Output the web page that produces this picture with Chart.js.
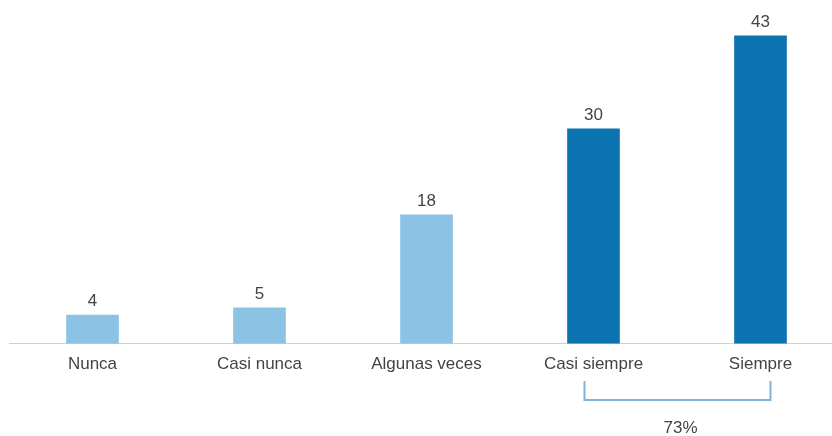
<!DOCTYPE html>
<html>
<head>
<meta charset="utf-8">
<script src="https://cdn.jsdelivr.net/npm/chart.js@4"></script>
<style>
    html, body { margin: 0; padding: 0; background: #fff; overflow: hidden; }
    #wrap { width: 845px; height: 436px; position: relative; }
</style>
</head>
<body>
<div id="wrap"><canvas id="myChart"></canvas></div>
<script>
"use strict";

const categories = ['Nunca', 'Casi nunca', 'Algunas veces', 'Casi siempre', 'Siempre'];
const values = [4, 5, 18, 30, 43];
const barColors = ['#8cc3e4', '#8cc3e4', '#8cc3e4', '#0b74b0', '#0b74b0'];
const groupLabel = '73%';

// etiquetas de valor encima de las barras + la llave de 73%
const extras = {
    id: 'extras',
    afterDatasetsDraw(chart) {
        const ctx = chart.ctx;
        const meta = chart.getDatasetMeta(0);
        ctx.save();
        ctx.fillStyle = '#444';
        ctx.font = '17px "Liberation Sans", Arial, sans-serif';
        ctx.textAlign = 'center';
        ctx.textBaseline = 'alphabetic';
        meta.data.forEach(function (bar, i) {
            ctx.fillText(values[i], bar.x, bar.y - 9);
        });

        const x = chart.scales.x;
        const left = x.getPixelForValue(3) - 9;
        const right = x.getPixelForValue(4) + 10;
        ctx.strokeStyle = '#82b3d9';
        ctx.lineWidth = 2;
        ctx.beginPath();
        ctx.moveTo(left, 381);
        ctx.lineTo(left, 400);
        ctx.lineTo(right, 400);
        ctx.lineTo(right, 381);
        ctx.stroke();
        ctx.fillText(groupLabel, (left + right) / 2 + 3, 433);
        ctx.restore();
    }
};

const ctx = document.getElementById('myChart');
const myChart = new Chart(ctx, {
    type: 'bar',
    data: {
        labels: categories,
        datasets: [{
            data: values,
            backgroundColor: barColors,
            barThickness: 52
        }]
    },
    options: {
        responsive: true,
        maintainAspectRatio: false,
        animation: false,
        layout: { padding: { left: 9, right: 1, top: 0, bottom: 50 } },
        plugins: {
            legend: { display: false },
            tooltip: { enabled: false }
        },
        scales: {
            y: {
                display: false,
                min: 0,
                max: 48
            },
            x: {
                grid: { display: false, drawTicks: false },
                border: { display: true, color: '#cfcfcf', width: 1 },
                ticks: {
                    color: '#444',
                    padding: 11,
                    font: { family: '"Liberation Sans", Arial, sans-serif', size: 17 }
                }
            }
        }
    },
    plugins: [extras]
});
</script>
</body>
</html>
